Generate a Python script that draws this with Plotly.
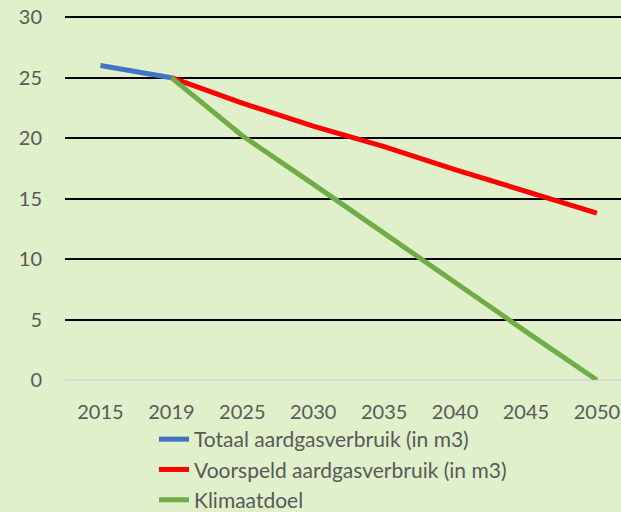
import plotly.graph_objects as go

categories = ["2015", "2019", "2025", "2030", "2035", "2040", "2045", "2050"]
totaal = [26, 25, None, None, None, None, None, None]
voorspeld = [None, 25, 22.9, 21.0, 19.3, 17.4, 15.6, 13.8]
klimaatdoel = [None, 25, 20.2, 16.2, 12.1, 8.0, 4.0, 0]
y_ticks = [0, 5, 10, 15, 20, 25, 30]

BG = "#DFF0CB"
TXT = "#595959"
FONT = "Lato"

fig = go.Figure()
fig.add_trace(go.Scatter(x=list(range(len(categories))), y=totaal, mode="lines",
                         name="Totaal aardgasverbruik (in m3)",
                         line=dict(color="#4472C4", width=5)))
fig.add_trace(go.Scatter(x=list(range(len(categories))), y=voorspeld, mode="lines",
                         name="Voorspeld aardgasverbruik (in m3)",
                         line=dict(color="#FF0000", width=5)))
fig.add_trace(go.Scatter(x=list(range(len(categories))), y=klimaatdoel, mode="lines",
                         name="Klimaatdoel",
                         line=dict(color="#70AD47", width=5)))

fig.update_layout(
    width=621, height=512,
    paper_bgcolor=BG, plot_bgcolor=BG,
    margin=dict(l=65, r=0, t=16, b=132, autoexpand=False),
    font=dict(family=FONT, size=20, color=TXT),
    showlegend=True,
    legend=dict(xref="container", yref="container", x=154/621, y=1-419/512,
                xanchor="left", yanchor="top", bgcolor="rgba(0,0,0,0)",
                font=dict(size=21, color=TXT), tracegroupgap=0),
    xaxis=dict(range=[-0.5, 7.34], tickmode="array",
               tickvals=list(range(len(categories))), ticktext=categories,
               tickangle=0, automargin=False,
               showgrid=False, zeroline=False, showline=False,
               ticks="outside", ticklen=14, tickcolor="rgba(0,0,0,0)",
               tickfont=dict(size=20, color=TXT, family=FONT), fixedrange=True),
    yaxis=dict(range=[0, 30.1], tickvals=y_ticks, showgrid=True, automargin=False,
               gridcolor="#000000", gridwidth=2, zeroline=True,
               zerolinecolor="#D9D9D9", zerolinewidth=2, showline=False,
               ticks="", ticklabelstandoff=22,
               tickfont=dict(size=20, color=TXT, family=FONT), fixedrange=True),
)

fig.write_html("out.html", config={"displayModeBar": False},
               post_script="document.body.style.margin='0';")
